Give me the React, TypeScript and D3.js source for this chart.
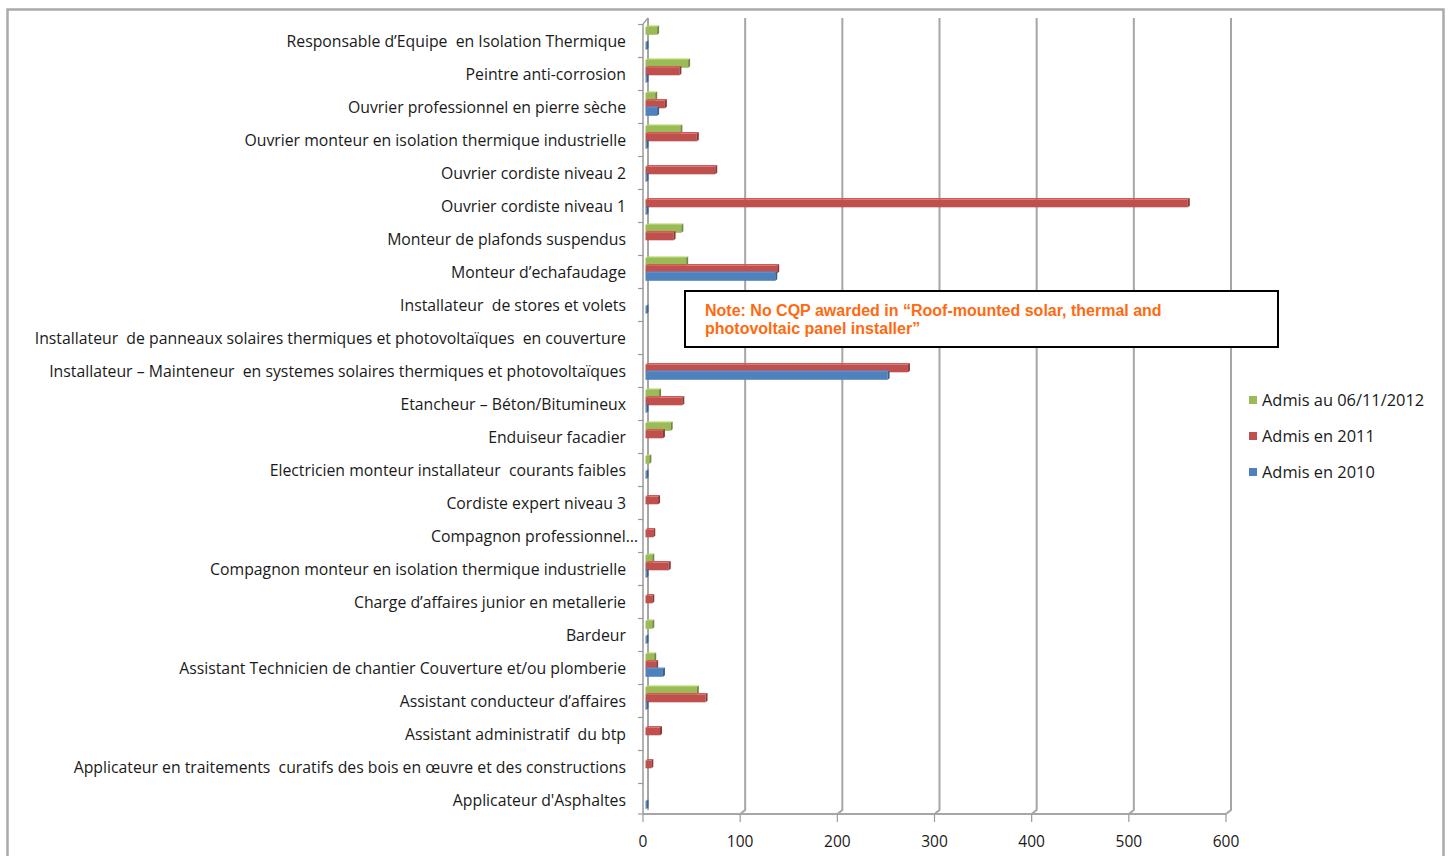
import React from "react";
import * as d3 from "d3";

const categories = [
  "Responsable d’Equipe  en Isolation Thermique",
  "Peintre anti-corrosion",
  "Ouvrier professionnel en pierre sèche",
  "Ouvrier monteur en isolation thermique industrielle",
  "Ouvrier cordiste niveau 2",
  "Ouvrier cordiste niveau 1",
  "Monteur de plafonds suspendus",
  "Monteur d’echafaudage",
  "Installateur  de stores et volets",
  "Installateur  de panneaux solaires thermiques et photovoltaïques  en couverture",
  "Installateur – Mainteneur  en systemes solaires thermiques et photovoltaïques",
  "Etancheur – Béton/Bitumineux",
  "Enduiseur facadier",
  "Electricien monteur installateur  courants faibles",
  "Cordiste expert niveau 3",
  "Compagnon professionnel…",
  "Compagnon monteur en isolation thermique industrielle",
  "Charge d’affaires junior en metallerie",
  "Bardeur",
  "Assistant Technicien de chantier Couverture et/ou plomberie",
  "Assistant conducteur d’affaires",
  "Assistant administratif  du btp",
  "Applicateur en traitements  curatifs des bois en œuvre et des constructions",
  "Applicateur d'Asphaltes",
];

const admis2012 = [12, 44, 10, 36, 0, 0, 37, 42, 0, 0, 0, 14, 26, 4, 0, 0, 7, 0, 7, 9, 53, 0, 0, 0];
const admis2011 = [0, 35, 20, 53, 72, 560, 29, 136, 0, 0, 271, 38, 18, 0, 13, 8, 24, 7, 0, 11, 62, 15, 6, 0];
const admis2010 = [1, 1, 12, 1, 1, 1, 0, 134, 1, 0, 250, 1, 0, 1, 0, 0, 1, 0, 1, 18, 1, 0, 0, 1];

const seriesNames = ["Admis au 06/11/2012", "Admis en 2011", "Admis en 2010"];
const seriesColors = ["#9BBB59", "#C0504D", "#4F81BD"];
const xTicks = [0, 100, 200, 300, 400, 500, 600];

const noteLines = [
  "Note: No CQP awarded in “Roof-mounted solar, thermal and",
  "photovoltaic panel installer”",
];

const FONT = "'Open Sans', Lato, sans-serif";

export default function App() {
  const W = 1450;
  const H = 856;
  const xFront = d3.scaleLinear().domain([0, 600]).range([643, 1226]);
  const xBack = d3.scaleLinear().domain([0, 600]).range([648, 1231]);
  const xBar = d3.scaleLinear().domain([0, 600]).range([645.5, 1226.5]);
  const yBand = d3.scaleBand<string>().domain(categories).range([24.5, 816.5]).padding(0);
  const sub = d3.scaleBand<number>().domain([0, 1, 2]).range([2.5, 25]).padding(0);
  const data = [admis2012, admis2011, admis2010];
  const floorY = 814;
  const backFloorY = 810;
  const topY = 18;

  return (
    <svg width={W} height={H} style={{ position: "absolute", left: 0, top: 0, background: "#fff" }}>
      <path d={`M7.5,${H + 2} V9.5 H1443.5 V${H + 2}`} fill="none" stroke="#aaaaaa" strokeWidth={2.5} />

      {xTicks.map((t) =>
        t === 0 ? null : (
          <path
            key={"g" + t}
            d={`M${xBack(t)},${topY} V${backFloorY} L${xFront(t)},${floorY}`}
            fill="none"
            stroke="#a6a6a6"
            strokeWidth={2}
          />
        )
      )}
      <path d={`M${xBack(0)},${topY} V${backFloorY}`} stroke="#a6a6a6" strokeWidth={2} fill="none" />
      <path d={`M${xFront(0)},${topY + 6} V${floorY}`} stroke="#9a9a9a" strokeWidth={1.5} fill="none" />
      <path d={`M${xFront(0)},${topY + 6} L${xBack(0)},${topY}`} stroke="#9a9a9a" strokeWidth={1.2} fill="none" />
      <path d={`M${xFront(0)},${floorY} H${xFront(600)}`} stroke="#a6a6a6" strokeWidth={2} fill="none" />
      {categories.map((c, i) => (
        <line key={"ct" + i} x1={xFront(0) - 5} x2={xFront(0)} y1={yBand(c)!} y2={yBand(c)!} stroke="#9a9a9a" strokeWidth={1.2} />
      ))}
      <line x1={xFront(0) - 5} x2={xFront(0)} y1={floorY} y2={floorY} stroke="#9a9a9a" strokeWidth={1.2} />
      {xTicks.map((t) => (
        <g key={"xt" + t}>
          <line x1={xFront(t)} x2={xFront(t)} y1={floorY} y2={floorY + 8} stroke="#9a9a9a" strokeWidth={1.2} />
          <text x={xFront(t)} y={floorY + 33} textAnchor="middle" fontFamily={FONT} fontSize={15.5} fill="#1a1a1a">
            {t}
          </text>
        </g>
      ))}

      {categories.map((c, i) =>
        data.map((series, s) => {
          const v = series[i];
          if (!v) return null;
          const y = yBand(c)! + sub(s)!;
          const h = 7.8;
          const x0 = xBar(0);
          const x1 = xBar(v);
          const col = d3.color(seriesColors[s])!;
          const dark = col.darker(0.9).toString();
          const light = col.brighter(0.3).toString();
          return (
            <g key={`b${i}-${s}`}>
              <path d={`M${x0},${y} L${x0 + 2},${y - 1.5} L${x1 + 2},${y - 1.5} L${x1},${y} Z`} fill={light} />
              <rect x={x0} y={y} width={Math.max(x1 - x0, 0.8)} height={h} fill={seriesColors[s]} />
              <path d={`M${x1},${y} L${x1 + 2},${y - 1.5} L${x1 + 2},${y + h - 1.5} L${x1},${y + h} Z`} fill={dark} />
            </g>
          );
        })
      )}

      {categories.map((c, i) => (
        <text
          key={"l" + i}
          x={c.endsWith("…") ? 638 : 626}
          y={yBand(c)! + yBand.bandwidth() / 2}
          dy="0.35em"
          textAnchor="end"
          fontFamily={FONT}
          fontSize={15.8}
          fill="#1a1a1a"
          style={{ whiteSpace: "pre" }}
        >
          {c}
        </text>
      ))}

      <rect x={685} y={291} width={593} height={56} fill="#fff" stroke="#000" strokeWidth={2} />
      {noteLines.map((l, i) => (
        <text
          key={"n" + i}
          x={705}
          y={316 + i * 18}
          fontFamily="'Liberation Sans', Arial, sans-serif"
          fontWeight="bold"
          fontSize={16}
          fill="#FF6A10"
        >
          {l}
        </text>
      ))}

      {seriesNames.map((n, i) => (
        <g key={"lg" + i}>
          <rect x={1249} y={396 + i * 36} width={8} height={8} fill={seriesColors[i]} />
          <text x={1262} y={400 + i * 36} dy="0.35em" fontFamily={FONT} fontSize={16.4} fill="#1a1a1a">
            {n}
          </text>
        </g>
      ))}
    </svg>
  );
}
